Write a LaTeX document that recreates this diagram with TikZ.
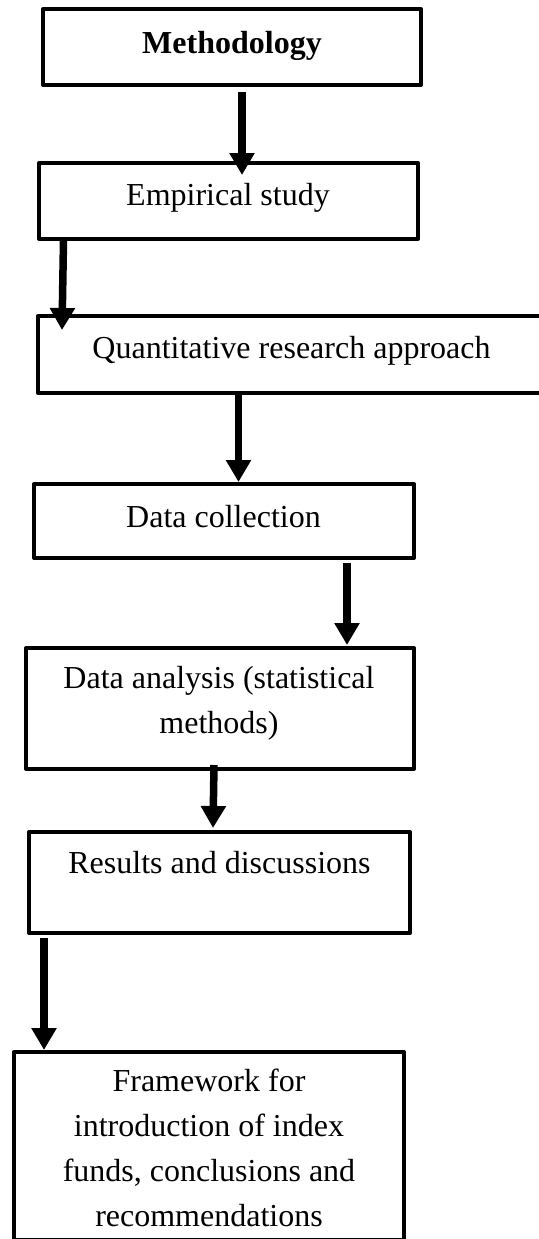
\documentclass[tikz,border=0pt]{standalone}
\usepackage{fontspec}
\setmainfont{Liberation Serif}
\usetikzlibrary{arrows.meta}
\tikzset{
  flowbox/.style={draw=black, line width=4pt, line join=round, rectangle, inner sep=0pt},
  flowtext/.style={inner sep=0pt, font=\fontsize{32}{45}\selectfont, align=center},
  flowarrow/.style={line width=7.5pt, -{Triangle[length=22pt,width=24pt]}}
}
\begin{document}
\begin{tikzpicture}[x=1pt,y=-1pt]
\useasboundingbox (0,0) rectangle (538,1239);
% boxes
\node[flowbox, minimum width=378pt, minimum height=76pt] (b1) at (232,47) {};
\node[flowbox, minimum width=379pt, minimum height=76pt] (b2) at (228.5,201) {};
\node[flowbox, minimum width=507pt, minimum height=77pt] (b3) at (291.5,354.5) {};
\node[flowbox, minimum width=380pt, minimum height=74pt] (b4) at (224,521) {};
\node[flowbox, minimum width=388pt, minimum height=121pt] (b5) at (220,708.5) {};
\node[flowbox, minimum width=381pt, minimum height=101pt] (b6) at (219.5,882.5) {};
\node[flowbox, minimum width=390pt, minimum height=188pt] (b7) at (209,1146) {};
% texts
\node[flowtext, anchor=base] (t1) at (232,53) {\bfseries Methodology};
\node[flowtext, anchor=base] (t2) at (228,205) {Empirical study};
\node[flowtext, anchor=base] (t3) at (291.5,358) {Quantitative research approach};
\node[flowtext, anchor=base] (t4) at (223.5,527) {Data collection};
\node[flowtext, anchor=center] (t5) at (219,703) {Data analysis (statistical\\methods)};
\node[flowtext, anchor=base] (t6) at (219.5,873) {Results and discussions};
\node[flowtext, anchor=center] (t7) at (209,1148) {Framework for\\introduction of index\\funds, conclusions and\\recommendations};
% arrow ends
\coordinate (a1s) at (242,92);    \coordinate (a1e) at (242,175);
\coordinate (a2s) at (63.5,240);  \coordinate (a2e) at (62,330);
\coordinate (a3s) at (238.5,393); \coordinate (a3e) at (238.5,482);
\coordinate (a4s) at (347,563);   \coordinate (a4e) at (347,645);
\coordinate (a5s) at (214,765);   \coordinate (a5e) at (213,828);
\coordinate (a6s) at (44,938);    \coordinate (a6e) at (44,1050);
\draw[flowarrow] (a1s) -- (a1e);
\draw[flowarrow] (a2s) -- (a2e);
\draw[flowarrow] (a3s) -- (a3e);
\draw[flowarrow] (a4s) -- (a4e);
\draw[flowarrow] (a5s) -- (a5e);
\draw[flowarrow] (a6s) -- (a6e);
\end{tikzpicture}
\end{document}
